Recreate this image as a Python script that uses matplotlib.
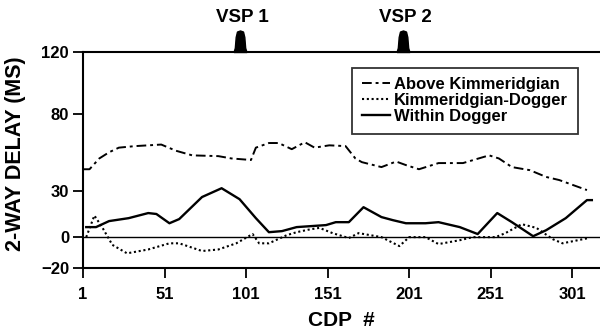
import numpy as np
import matplotlib
matplotlib.use("Agg")
import matplotlib.pyplot as plt
from matplotlib.path import Path

plt.rcParams['font.family'] = ['Liberation Sans', 'DejaVu Sans']
plt.rcParams['font.weight'] = 'bold'

# data
above_cdp = [1, 5, 11, 17, 23, 33, 49, 58, 68, 84, 92, 104, 107, 115, 121, 129, 137, 143,
             152, 162, 168, 172, 184, 193, 199, 207, 219, 234, 250, 256, 264, 275, 285, 293, 310]
above_ms = [44, 44, 51, 55, 58, 59, 60, 56, 53, 52.5, 51, 50, 58, 61, 61, 57, 61.5, 58,
            59.5, 59, 51, 48.6, 45.4, 49, 46.7, 44, 48, 48, 53, 51, 45.4, 43.4, 39, 37, 30.5]

kd_cdp = [3, 8, 13, 19, 28, 41, 54, 60, 74, 84, 95, 105, 109, 115, 126, 132, 140, 146,
          154, 164, 170, 184, 195, 201, 211, 219, 232, 240, 254, 260, 270, 279, 289, 295, 311]
kd_ms = [0, 14, 6, -5, -10.5, -8, -4, -4, -9, -8, -4, 2, -4, -4, 1.3, 3.2, 5, 6,
         2.6, -0.6, 2.6, 0, -5.8, 0, 0, -4.5, -2, 0, 0, 2.6, 8.4, 6, -1.3, -4, -0.6]

dogger_cdp = [3, 9, 17, 29, 41, 46, 54, 60, 74, 86, 97, 107, 115, 123, 132, 150, 156, 164,
              173, 184, 191, 199, 211, 219, 232, 243, 255, 264, 277, 285, 297, 310, 313]
dogger_ms = [6.5, 6.5, 10.4, 12.3, 15.6, 15, 9, 11.7, 26, 31.7, 24.6, 12.3, 3.2, 3.9, 6.5, 7.8,
             9.7, 9.7, 19.4, 13, 11, 9, 9, 9.7, 6.5, 2, 15.6, 9.7, 0.6, 4.5, 12.3, 24, 24]

vsp_cdp = [97, 197]
vsp_labels = ['VSP 1', 'VSP 2']

x_ticks = [1, 51, 101, 151, 201, 251, 301]
y_ticks = [-20, 0, 30, 80, 120]

fig = plt.figure(figsize=(6, 3.32), dpi=100)
ax = fig.add_axes([0.1383, 0.1928, 0.8617, 0.6506])

ax.plot(above_cdp, above_ms, color='black', lw=1.4, ls=(0, (5, 2, 1.5, 2)), label='Above Kimmeridgian')
ax.plot(kd_cdp, kd_ms, color='black', lw=1.5, ls=(0, (1, 1.3)), label='Kimmeridgian-Dogger')
ax.plot(dogger_cdp, dogger_ms, color='black', lw=1.7, ls='-', label='Within Dogger')
ax.axhline(0, color='black', lw=1.0)

# VSP location markers on the top edge
bell = Path([(-0.3, 0), (-0.24, 0.2), (-0.2, 0.7), (-0.14, 0.95), (0, 1.0),
             (0.14, 0.95), (0.2, 0.7), (0.24, 0.2), (0.3, 0), (-0.3, 0)])
ax.plot(vsp_cdp, [120] * len(vsp_cdp), ls='none', marker=bell, markersize=31,
        color='black', clip_on=False)
for c, lab in zip(vsp_cdp, vsp_labels):
    ax.annotate(lab, xy=(c, 120), xytext=(2, 25), textcoords='offset points',
                ha='center', va='center', fontsize=13.5, fontweight='bold')

ax.set_xlim(1, 318)
ax.set_ylim(-20, 120)
ax.set_xticks(x_ticks)
ax.set_yticks(y_ticks)
ax.tick_params(axis='both', direction='out', length=7, width=1.3, labelsize=12, pad=3)
ax.tick_params(axis='x', pad=7)
for lab in ax.get_xticklabels() + ax.get_yticklabels():
    lab.set_fontweight('bold')

ax.spines['right'].set_visible(False)
for s in ['left', 'bottom', 'top']:
    ax.spines[s].set_linewidth(1.5)

ax.set_xlabel('CDP  #', fontsize=15, fontweight='bold', labelpad=6)
ax.set_ylabel('2-WAY DELAY (MS)', fontsize=15.5, fontweight='bold')
ax.yaxis.set_label_coords(-0.11, 0.53)

leg = ax.legend(loc='upper right', bbox_to_anchor=(0.957, 0.928), borderaxespad=0,
                fontsize=12, frameon=True, fancybox=False, handlelength=1.7,
                handletextpad=0.25, labelspacing=0.05, borderpad=0.58)
leg.get_frame().set_edgecolor('black')
leg.get_frame().set_linewidth(1.3)
for t in leg.get_texts():
    t.set_fontweight('bold')

fig.savefig('out.png', dpi=100)
